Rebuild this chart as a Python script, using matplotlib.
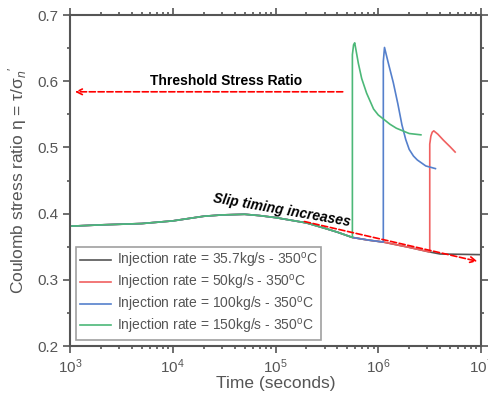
import matplotlib
matplotlib.use("Agg")
import matplotlib.pyplot as plt
from matplotlib.ticker import MultipleLocator, LogLocator, NullFormatter

plt.rcParams["font.family"] = ["Liberation Sans", "DejaVu Sans"]
plt.rcParams["mathtext.fontset"] = "custom"
plt.rcParams["mathtext.rm"] = "Liberation Sans"
plt.rcParams["mathtext.it"] = "Liberation Sans:italic"
plt.rcParams["mathtext.bf"] = "Liberation Sans:bold"

# shared pre-slip curve (time in seconds, stress ratio)
base_t = [1e3, 2e3, 5e3, 1e4, 2e4, 3e4, 5e4, 7e4, 1e5, 2e5, 3e5, 4e5, 5.6e5,
          8e5, 1.12e6, 2e6, 3.17e6, 4e6, 1e7]
base_v = [0.381, 0.383, 0.385, 0.389, 0.396, 0.398, 0.399, 0.397, 0.394, 0.386,
          0.378, 0.372, 0.364, 0.360, 0.357, 0.349, 0.342, 0.339, 0.338]

# post-slip branches
red_t = [3.17e6, 3.25e6, 3.35e6, 3.47e6, 3.8e6, 4.3e6, 5e6, 5.6e6]
red_v = [0.505, 0.517, 0.523, 0.525, 0.52, 0.511, 0.501, 0.493]
blue_t = [1.12e6, 1.15e6, 1.25e6, 1.4e6, 1.55e6, 1.7e6, 1.85e6, 2e6, 2.2e6,
          2.4e6, 2.9e6, 3.6e6]
blue_v = [0.63, 0.651, 0.628, 0.598, 0.566, 0.534, 0.512, 0.497, 0.487,
          0.481, 0.472, 0.468]
green_t = [5.6e5, 5.75e5, 5.9e5, 6.4e5, 6.9e5, 7.7e5, 9e5, 1e6, 1.12e6, 1.3e6,
           1.5e6, 2e6, 2.6e6]
green_v = [0.64, 0.655, 0.658, 0.627, 0.604, 0.582, 0.558, 0.549, 0.543, 0.535,
           0.529, 0.521, 0.519]

labels = ["Injection rate = 35.7kg/s - 350$^{\\mathrm{o}}$C",
          "Injection rate = 50kg/s - 350$^{\\mathrm{o}}$C",
          "Injection rate = 100kg/s - 350$^{\\mathrm{o}}$C",
          "Injection rate = 150kg/s - 350$^{\\mathrm{o}}$C"]
colors = ["#555555", "#f06060", "#5580cc", "#4cb878"]
grey = "#555555"

def branch(t_end, t, v):
    n = base_t.index(t_end) + 1
    return base_t[:n] + t, base_v[:n] + v

fig = plt.figure(figsize=(4.88, 3.94), dpi=100)
ax = fig.add_axes([0.1434, 0.1218, 0.8423, 0.8401])

ax.plot(base_t, base_v, color=colors[0], lw=1.2, label=labels[0])
t, v = branch(3.17e6, red_t, red_v)
ax.plot(t, v, color=colors[1], lw=1.2, label=labels[1])
t, v = branch(1.12e6, blue_t, blue_v)
ax.plot(t, v, color=colors[2], lw=1.2, label=labels[2])
t, v = branch(5.6e5, green_t, green_v)
ax.plot(t, v, color=colors[3], lw=1.2, label=labels[3])

ax.set_xscale("log")
ax.set_xlim(1e3, 1e7)
ax.set_ylim(0.2, 0.7)
ax.yaxis.set_minor_locator(MultipleLocator(0.05))
ax.xaxis.set_minor_locator(LogLocator(base=10, subs=range(2, 10)))
ax.xaxis.set_minor_formatter(NullFormatter())
ax.set_yticks([0.2, 0.3, 0.4, 0.5, 0.6, 0.7])
ax.set_yticklabels(["0.2", "0.3", "0.4", "0.5", "0.6", "0.7"])

ax.tick_params(which="both", direction="out", top=True, right=True, colors=grey,
               labelsize=11, width=1.2)
ax.tick_params(which="major", length=5)
ax.tick_params(which="minor", length=2.5)
ax.tick_params(labeltop=False, labelright=False)
for s in ax.spines:
    ax.spines[s].set_color(grey)
    ax.spines[s].set_linewidth(1.5)

ax.set_xlabel("Time (seconds)", fontsize=12.5, color=grey, labelpad=0)
ax.set_ylabel("Coulomb stress ratio η = τ/σ$_{n}$$'$", fontsize=12.5, color=grey, labelpad=6)

# annotations
ax.annotate("", xy=(1.05e3, 0.584), xytext=(4.8e5, 0.584),
            arrowprops=dict(arrowstyle="->", color="red", ls="--", lw=1.2))
ax.text(3.3e4, 0.6, "Threshold Stress Ratio", fontsize=10, fontweight="bold",
        ha="center", va="center")
ax.annotate("", xy=(9.8e6, 0.327), xytext=(1.8e5, 0.389),
            arrowprops=dict(arrowstyle="->", color="red", ls="--", lw=1.2))
ax.text(1.16e5, 0.405, "Slip timing increases", fontsize=10, fontweight="bold",
        style="italic", ha="center", va="center", rotation=-10)

leg = ax.legend(loc="lower left", fontsize=10, frameon=True, fancybox=False,
                handlelength=2.2, borderaxespad=0.45, labelspacing=0.2,
                borderpad=0.3, handletextpad=0.4)
leg.get_frame().set_edgecolor("#888888")
leg.get_frame().set_linewidth(1.2)
for txt in leg.get_texts():
    txt.set_color(grey)

fig.savefig("out.png", dpi=100)
